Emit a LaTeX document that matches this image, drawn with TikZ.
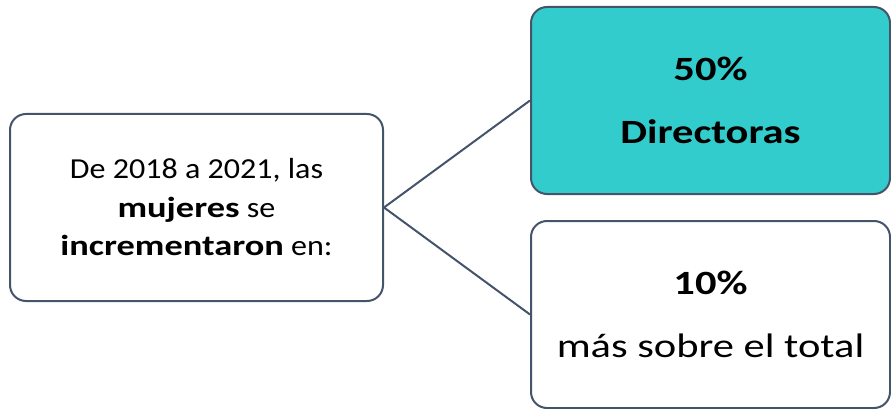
\documentclass[tikz,border=0pt]{standalone}
\usepackage{fontspec}
\setmainfont{Carlito}
\newfontfamily\leftfont[FakeStretch=1.105]{Carlito}
\newfontfamily\leftbold[FakeStretch=1.255]{Carlito Bold}
\newfontfamily\rightfont[FakeStretch=1.25]{Carlito}
\newcommand{\lb}[1]{{\leftbold #1}}
\definecolor{edge}{HTML}{44546A}
\definecolor{teal}{HTML}{33CCCC}
\tikzset{
  box/.style={draw=edge, line width=2pt, rounded corners=16pt, align=center, inner sep=0pt, text=black},
  link/.style={draw=edge, line width=2pt}
}
\begin{document}
\begin{tikzpicture}[x=1pt,y=-1pt]
\useasboundingbox (0,0) rectangle (891,409);
\node[box, minimum width=373pt, minimum height=187pt, font=\leftfont\fontsize{29}{38.5}\selectfont] (src) at (196.5,207.5)
  {De 2018 a 2021, las\\ \lb{mujeres} se\\ \lb{incrementaron} en:};
\node[box, fill=teal, minimum width=359pt, minimum height=187pt, font=\rightfont\fontsize{34}{63}\selectfont\bfseries] (dir) at (710.5,100.5)
  {50\%\\ Directoras};
\node[box, minimum width=359pt, minimum height=187pt, font=\rightfont\fontsize{34}{63}\selectfont] (tot) at (710.5,314.5)
  {\textbf{10\%}\\ más sobre el total};
\draw[link] (src.east) -- (dir.west);
\draw[link] (src.east) -- (tot.west);
\end{tikzpicture}
\end{document}
